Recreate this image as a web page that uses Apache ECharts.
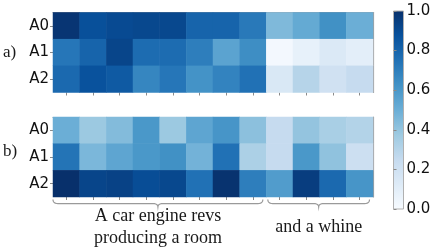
<!DOCTYPE html>
<html><head><meta charset="utf-8">
<script src="https://cdn.jsdelivr.net/npm/echarts@6/dist/echarts.min.js"></script>
<style>html,body{margin:0;padding:0;background:#fff}#c{width:436px;height:250px}</style>
</head><body><div id="c"></div>
<script>
// ---- data ----
const columns = ['t0','t1','t2','t3','t4','t5','t6','t7','t8','t9','t10','t11'];
const rows = ['A0','A1','A2'];
const valuesA = [
  [0.98,0.88,0.90,0.91,0.91,0.80,0.80,0.72,0.45,0.52,0.63,0.50],
  [0.73,0.80,0.92,0.77,0.77,0.70,0.55,0.64,0.02,0.08,0.14,0.10],
  [0.78,0.87,0.84,0.67,0.73,0.62,0.68,0.75,0.15,0.30,0.20,0.25]
];
const valuesB = [
  [0.50,0.38,0.44,0.60,0.38,0.54,0.61,0.42,0.25,0.40,0.34,0.31],
  [0.74,0.46,0.54,0.60,0.63,0.48,0.75,0.33,0.25,0.60,0.41,0.22],
  [1.00,0.92,0.93,0.89,0.91,0.75,0.99,0.70,0.58,0.95,0.78,0.61]
];
const colorbarTicks = [0.0,0.2,0.4,0.6,0.8,1.0];
const groupLabels = ['A car engine revs\nproducing a room','and a whine'];
const groupSpans = [[0,7],[8,11]];
const panelLabels = ['a)','b)'];

const blues = ['#f7fbff','#deebf7','#c6dbef','#9ecae1','#6baed6','#4292c6','#2171b5','#08519c','#08306b'];

function toCells(m){const out=[];m.forEach((r,ri)=>r.forEach((v,ci)=>out.push([ci,ri,v])));return out;}

// ---- layout ----
const G = {left:53, width:320, topA:12.5, topB:117, h:80};
const CB = {left:393.5, top:11, width:10, height:198};
const spine = '#a0a0a0';
const tickC = '#8a8a8a';

function heatAxesX(gi){
  return [
    {gridIndex:gi,type:'category',data:columns,position:'bottom',
     axisLine:{show:false},axisLabel:{show:false},
     axisTick:{show:true,alignWithLabel:true,length:3,lineStyle:{color:tickC,width:1}},splitLine:{show:false}},
    {gridIndex:gi,type:'value',min:0,max:1,position:'top',
     axisLine:{show:true,lineStyle:{color:spine,width:1.2}},axisLabel:{show:false},axisTick:{show:false},splitLine:{show:false}}
  ];
}
function heatAxesY(gi){
  return [
    {gridIndex:gi,type:'category',data:rows,inverse:true,position:'left',
     axisLine:{show:false},
     axisLabel:{show:true,fontFamily:'DejaVu Sans',fontSize:15,color:'#111',margin:4},
     axisTick:{show:true,alignWithLabel:true,length:3,lineStyle:{color:tickC,width:1}},splitLine:{show:false}},
    {gridIndex:gi,type:'value',min:0,max:1,position:'right',
     axisLine:{show:true,lineStyle:{color:spine,width:1.2}},axisLabel:{show:false},axisTick:{show:false},splitLine:{show:false}}
  ];
}

const chart = echarts.init(document.getElementById('c'),null,{renderer:'canvas'});

const gradStops = blues.map((c,i)=>({offset:1-i/(blues.length-1),color:c}));
const cbGradient = {type:'linear',x:0,y:0,x2:0,y2:1,colorStops:gradStops};

const xAxes = [...heatAxesX(0),...heatAxesX(1),
  {gridIndex:2,type:'value',min:0,max:1,show:false}];
const yAxes = [...heatAxesY(0),...heatAxesY(1),
  {gridIndex:2,type:'value',min:0,max:1,interval:0.2,position:'right',
   axisLine:{show:false},splitLine:{show:false},
   axisTick:{show:true,length:3,lineStyle:{color:tickC,width:1}},
   axisLabel:{show:true,fontFamily:'DejaVu Sans',fontSize:15,color:'#111',margin:3,
     formatter:v=>colorbarTicks.some(t=>Math.abs(t-v)<1e-9)?v.toFixed(1):''}}];

// brace as sampled polyline of quadratic curves
function quad(p0,p1,p2,n,out){for(let k=1;k<=n;k++){const t=k/n,a=(1-t)*(1-t),b=2*(1-t)*t,c=t*t;out.push([a*p0[0]+b*p1[0]+c*p2[0],a*p0[1]+b*p1[1]+c*p2[1]]);}}
function bracePoints(x1,x2,y0,d){
  const y1=y0+d*0.55, y2=y0+d, xm=(x1+x2)/2, r=5, pts=[[x1,y0]];
  quad([x1,y0],[x1,y1],[x1+r,y1],6,pts);
  pts.push([xm-r,y1]);
  quad([xm-r,y1],[xm,y1],[xm,y2],6,pts);
  quad([xm,y2],[xm,y1],[xm+r,y1],6,pts);
  pts.push([x2-r,y1]);
  quad([x2-r,y1],[x2,y1],[x2,y0],6,pts);
  return pts;
}
const cw = G.width/columns.length;
const graphics = [];
groupSpans.forEach((s,i)=>{
  const x1 = G.left + s[0]*cw + (i===0?0:1.5);
  const x2 = G.left + (s[1]+1)*cw - 3.5;
  graphics.push({type:'polyline',shape:{points:bracePoints(x1,x2,199.5,7.5)},
    style:{fill:null,stroke:'#9a9a9a',lineWidth:1.2}});
  graphics.push({type:'text',x:(x1+x2)/2,y:227.5,
    style:{text:groupLabels[i],font:'18px "Liberation Serif"',fill:'#1a1a1a',
      textAlign:'center',textVerticalAlign:'middle',lineHeight:21.5}});
});
graphics.push({type:'text',x:3,y:53,style:{text:panelLabels[0],font:'17px "Liberation Serif"',fill:'#1a1a1a',textVerticalAlign:'middle'}});
graphics.push({type:'text',x:3,y:151.5,style:{text:panelLabels[1],font:'17px "Liberation Serif"',fill:'#1a1a1a',textVerticalAlign:'middle'}});

chart.setOption({
  animation:false,
  backgroundColor:'#fff',
  grid:[
    {left:G.left,top:G.topA,width:G.width,height:G.h},
    {left:G.left,top:G.topB,width:G.width,height:G.h},
    {left:CB.left,top:CB.top,width:CB.width,height:CB.height,show:true,
     backgroundColor:cbGradient,borderColor:'#b0b0b0',borderWidth:1}
  ],
  xAxis:xAxes,
  yAxis:yAxes,
  visualMap:{type:'continuous',show:false,min:0,max:1,seriesIndex:[0,1],inRange:{color:blues}},
  series:[
    {type:'heatmap',xAxisIndex:0,yAxisIndex:0,data:toCells(valuesA),itemStyle:{borderWidth:0}},
    {type:'heatmap',xAxisIndex:2,yAxisIndex:2,data:toCells(valuesB),itemStyle:{borderWidth:0}}
  ],
  graphic:graphics
});
</script></body></html>
